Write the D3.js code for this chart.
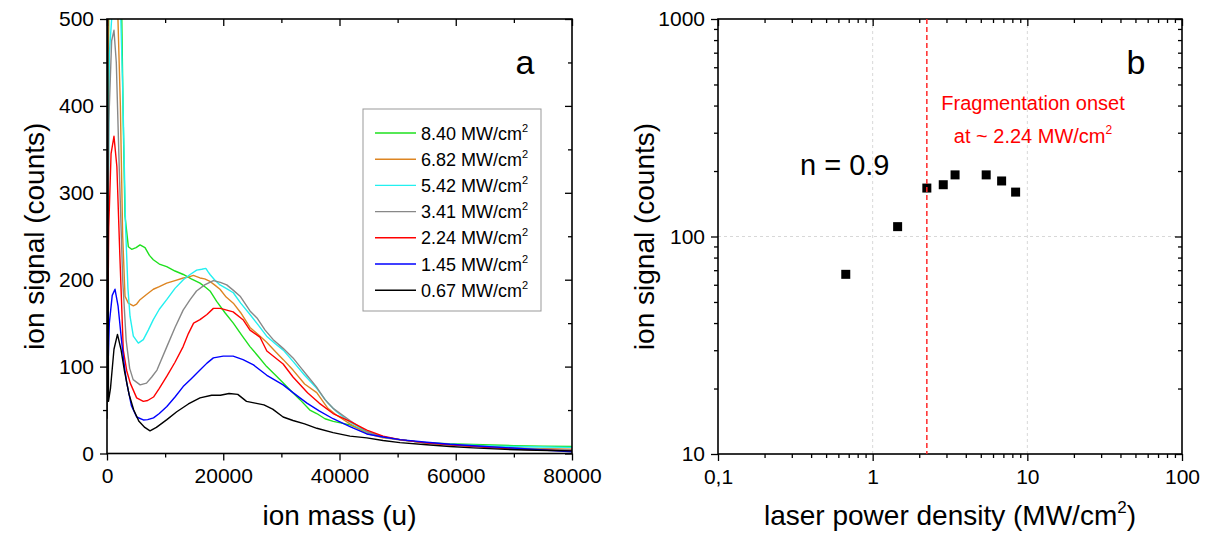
<!DOCTYPE html>
<html>
<head>
<meta charset="utf-8">
<script src="https://cdn.jsdelivr.net/npm/d3@7"></script>
<style>
  body { margin: 0; background: #fff; }
  text { font-family: "Liberation Sans", Arial, sans-serif; fill: #000; }
</style>
</head>
<body>
<svg id="chart" width="1210" height="535"></svg>
<script>
// ---------- panel a: mass spectra at several laser power densities ----------
const powerLabels = ["8.40", "6.82", "5.42", "3.41", "2.24", "1.45", "0.67"];
const seriesColors = ["#1ee01e", "#dd8522", "#22f0f0", "#888888", "#ff0000", "#0000ff", "#000000"];

// [ion mass (u), ion signal (counts)]
const spec840 = [[0,60],[300,520],[2500,520],[2800,380],[3100,273],[3670,238],[4240,235],[5000,237],[5680,240],[6540,237],[7300,228],[7970,223],[9000,218],[10270,215],[11700,210],[13130,206],[14500,201],[16000,196],[17000,191],[17720,187],[18870,175],[20300,162],[21730,150],[23200,136],[24600,123],[26000,112],[27470,100],[29000,90],[30330,81],[31800,71],[33200,62],[34900,50],[36080,46],[37500,40],[38930,37],[41800,33],[44680,25],[47500,19],[50400,16],[55000,12],[60000,11],[64700,10],[70000,9],[75000,8.5],[80000,8]];
const spec682 = [[0,60],[250,520],[1800,520],[2300,400],[2700,250],[3100,181],[3670,173],[4530,170],[5100,172],[5680,177],[6800,183],[7970,189],[9000,192],[10270,196],[11700,199],[13130,202],[14000,203],[14850,205],[16000,202],[16800,201],[17720,198],[18500,194],[19440,189],[20500,180],[21730,173],[23000,162],[24600,145],[26000,137],[27470,128],[29000,117],[30330,108],[32000,96],[34000,80],[36080,70],[38000,52],[39500,44],[41800,34],[44700,23],[47500,18],[50400,16],[55000,12],[60000,9.5],[65000,8],[70000,6.5],[75000,5.5],[80000,5]];
const spec542 = [[0,60],[400,460],[1000,520],[2300,520],[2700,420],[3200,260],[3600,190],[3960,158],[4530,135],[5390,127],[6250,131],[7100,142],[7970,154],[9000,166],[10270,177],[11700,190],[13130,200],[14300,206],[15430,211],[16300,212],[17000,213],[17400,209],[17720,206],[18500,200],[19440,194],[20500,190],[21730,185],[23000,173],[24600,160],[26000,148],[27470,135],[29000,126],[30330,119],[32000,106],[34000,90],[36080,75],[38000,58],[39500,48],[41800,36],[44700,25],[47500,19],[50400,16],[55000,12],[60000,10.5],[64700,9],[70000,8],[75000,7.5],[80000,7]];
const spec341 = [[0,60],[300,380],[800,475],[1200,487],[1600,450],[2100,330],[2700,200],[3300,130],[3900,98],[4500,85],[5700,79],[6800,81],[7700,88],[8600,96],[10300,123],[11700,145],[13100,165],[14300,177],[15400,187],[16800,194],[18300,199],[19500,197],[20600,194],[21700,188],[22900,181],[24600,164],[25800,156],[27200,142],[28600,131],[30300,121],[32000,110],[33200,100],[34400,90],[36000,77],[37500,62],[38900,52],[41800,38],[44700,25],[47500,19],[50400,15.6],[55000,12.5],[60000,10],[65000,8],[70000,6],[75000,5],[80000,4]];
const spec224 = [[0,60],[300,260],[700,345],[1200,365],[1700,330],[2200,230],[2800,119],[3400,95],[4000,81],[5100,64],[6250,60],[7000,61],[8000,65],[9000,75],[10300,89],[11700,105],[13100,123],[14000,138],[14900,150],[16000,154],[17200,160],[18300,167],[19500,167],[20600,165],[21700,163],[23400,154],[24600,142],[26300,134],[27500,118],[30300,103],[32000,88],[34500,70],[36500,58],[38900,46],[41800,37],[44700,27],[47500,20],[50400,16],[55000,12],[59000,10],[65000,7],[70000,5],[75000,4],[80000,3]];
const spec145 = [[0,60],[400,150],[900,182],[1380,189],[1900,170],[2500,130],[3000,100],[3400,81],[4200,55],[5100,42],[6250,38.6],[7000,39],[8000,41],[9000,46],[10300,54],[11700,65],[13100,77],[14500,86],[16000,96],[17200,104],[18300,110],[20000,112],[21700,112],[23400,108],[25200,102],[27500,90],[30300,79],[32000,70],[34400,58],[36500,49],[38900,40],[41800,31],[44700,22.5],[47500,19],[50400,16],[55000,13],[59000,10.6],[65000,8],[70500,6],[75000,4],[80000,2]];
const spec067 = [[0,40],[100,560],[250,60],[600,75],[1200,120],[1800,137],[2400,120],[3000,95],[3800,68],[4600,50],[5500,37],[6500,30],[7400,26],[8500,30],[10300,39],[12000,48],[14000,57],[16000,64],[18000,67],[19500,67],[21000,69],[22500,68],[24000,60],[25500,58],[27000,56],[28500,51],[30300,42],[32000,38],[34000,34],[36100,29],[38900,24],[41800,20],[44700,18],[47500,15],[50400,12.5],[55000,10],[59000,8],[63000,6.5],[67600,5],[72000,4],[76000,3.5],[80000,3]];
const spectra = [spec840, spec682, spec542, spec341, spec224, spec145, spec067];

const massTicks = [0, 20000, 40000, 60000, 80000];
const massMinorTicks = [10000, 30000, 50000, 70000];
const countTicks = [0, 100, 200, 300, 400, 500];
const countMinorTicks = [50, 150, 250, 350, 450];

// ---------- panel b: integrated ion signal vs. laser power density ----------
const powerDensity = [0.67, 1.45, 2.24, 2.86, 3.41, 5.42, 6.82, 8.40];
const ionSignal = [67, 111, 167, 173, 192, 192, 180, 160];
const onsetPower = 2.24;
const powerTicks = [0.1, 1, 10, 100];
const powerTickLabels = ["0,1", "1", "10", "100"];
const signalTicks = [10, 100, 1000];

const svg = d3.select("#chart");
const FONT_TICK = 21, FONT_TITLE = 28;

// adds "MW/cm" + superscript 2 to a text selection
function addUnit(textSel, supSize, supDy) {
  textSel.append("tspan").text("MW/cm");
  textSel.append("tspan").attr("font-size", supSize).attr("dy", -supDy).text("2");
  return textSel;
}

// ================= panel a =================
const A = { left: 107, right: 572, top: 19, bottom: 453.5 };
const xA = d3.scaleLinear().domain([0, 80000]).range([A.left, A.right]);
const yA = d3.scaleLinear().domain([0, 500]).range([A.bottom, A.top]);

const gA = svg.append("g");
gA.append("clipPath").attr("id", "clipA").append("rect")
  .attr("x", A.left).attr("y", A.top).attr("width", A.right - A.left).attr("height", A.bottom - A.top);

const lineA = d3.line().x(d => xA(d[0])).y(d => yA(d[1]));
const curves = gA.append("g").attr("clip-path", "url(#clipA)");
// highest power first, the 0.67 MW/cm2 spectrum ends up on top
spectra.forEach((s, i) => {
  curves.append("path").datum(s)
    .attr("d", lineA).attr("fill", "none")
    .attr("stroke", seriesColors[i]).attr("stroke-width", 1.4)
    .attr("stroke-linejoin", "round");
});

function styleAxis(g) {
  g.select(".domain").remove();
  g.selectAll(".tick line").attr("stroke", "#000").attr("stroke-width", 1.3);
  g.selectAll("text").attr("font-size", FONT_TICK).attr("font-family", "Liberation Sans, Arial, sans-serif");
}

// bottom axis (outward ticks)
gA.append("g").attr("transform", `translate(0,${A.bottom})`)
  .call(d3.axisBottom(xA).tickValues(massTicks).tickFormat(d3.format("d")).tickSize(7).tickPadding(8))
  .call(styleAxis);
gA.append("g").attr("transform", `translate(0,${A.bottom})`)
  .call(d3.axisBottom(xA).tickValues(massMinorTicks).tickFormat("").tickSize(4))
  .call(styleAxis);
// top mirror (inward ticks)
gA.append("g").attr("transform", `translate(0,${A.top})`)
  .call(d3.axisBottom(xA).tickValues(massTicks).tickFormat("").tickSize(7))
  .call(styleAxis);
gA.append("g").attr("transform", `translate(0,${A.top})`)
  .call(d3.axisBottom(xA).tickValues(massMinorTicks).tickFormat("").tickSize(4))
  .call(styleAxis);
// left axis (outward ticks)
gA.append("g").attr("transform", `translate(${A.left},0)`)
  .call(d3.axisLeft(yA).tickValues(countTicks).tickSize(7).tickPadding(6))
  .call(styleAxis);
gA.append("g").attr("transform", `translate(${A.left},0)`)
  .call(d3.axisLeft(yA).tickValues(countMinorTicks).tickFormat("").tickSize(4))
  .call(styleAxis);
// right mirror (inward ticks)
gA.append("g").attr("transform", `translate(${A.right},0)`)
  .call(d3.axisLeft(yA).tickValues(countTicks).tickFormat("").tickSize(7))
  .call(styleAxis);
gA.append("g").attr("transform", `translate(${A.right},0)`)
  .call(d3.axisLeft(yA).tickValues(countMinorTicks).tickFormat("").tickSize(4))
  .call(styleAxis);

gA.append("rect").attr("x", A.left).attr("y", A.top)
  .attr("width", A.right - A.left).attr("height", A.bottom - A.top)
  .attr("fill", "none").attr("stroke", "#000").attr("stroke-width", 1.6);

// legend
const leg = gA.append("g");
leg.append("rect").attr("x", 363).attr("y", 109).attr("width", 178).attr("height", 202)
  .attr("fill", "#fff").attr("stroke", "#999").attr("stroke-width", 1);
powerLabels.forEach((lab, i) => {
  const yy = 133 + i * 26.2;
  leg.append("line").attr("x1", 375).attr("x2", 416).attr("y1", yy).attr("y2", yy)
    .attr("stroke", seriesColors[i]).attr("stroke-width", 1.4);
  const t = leg.append("text").attr("x", 421).attr("y", yy + 6.5).attr("font-size", 18);
  t.append("tspan").text(lab + " ");
  addUnit(t, 11, 8);
});

gA.append("text").attr("x", 525).attr("y", 74).attr("text-anchor", "middle")
  .attr("font-size", 34).text("a");

svg.append("text").attr("x", (A.left + A.right) / 2).attr("y", 525)
  .attr("text-anchor", "middle").attr("font-size", FONT_TITLE).text("ion mass (u)");
svg.append("text").attr("transform", `translate(44,${(A.top + A.bottom) / 2}) rotate(-90)`)
  .attr("text-anchor", "middle").attr("font-size", FONT_TITLE).text("ion signal (counts)");

// ================= panel b =================
const B = { left: 718, right: 1182, top: 19, bottom: 454 };
const xB = d3.scaleLog().domain([0.1, 100]).range([B.left, B.right]);
const yB = d3.scaleLog().domain([10, 1000]).range([B.bottom, B.top]);
const gB = svg.append("g");

const minorX = [];
[0.1, 1, 10].forEach(d => { for (let k = 2; k <= 9; k++) minorX.push(d * k); });
const minorY = [];
[10, 100].forEach(d => { for (let k = 2; k <= 9; k++) minorY.push(d * k); });

// light dashed grid at the inner decades
gB.selectAll(".gx").data([1, 10]).join("line")
  .attr("x1", d => xB(d)).attr("x2", d => xB(d)).attr("y1", B.top).attr("y2", B.bottom)
  .attr("stroke", "#d8d8d8").attr("stroke-width", 1).attr("stroke-dasharray", "3,3");
gB.selectAll(".gy").data([100]).join("line")
  .attr("y1", d => yB(d)).attr("y2", d => yB(d)).attr("x1", B.left).attr("x2", B.right)
  .attr("stroke", "#d8d8d8").attr("stroke-width", 1).attr("stroke-dasharray", "3,3");

gB.append("g").attr("transform", `translate(0,${B.bottom})`)
  .call(d3.axisBottom(xB).tickValues(powerTicks).tickFormat((d, i) => powerTickLabels[i]).tickSize(7).tickPadding(8))
  .call(styleAxis);
gB.append("g").attr("transform", `translate(0,${B.bottom})`)
  .call(d3.axisBottom(xB).tickValues(minorX).tickFormat("").tickSize(4))
  .call(styleAxis);
gB.append("g").attr("transform", `translate(0,${B.top})`)
  .call(d3.axisBottom(xB).tickValues(powerTicks).tickFormat("").tickSize(7))
  .call(styleAxis);
gB.append("g").attr("transform", `translate(0,${B.top})`)
  .call(d3.axisBottom(xB).tickValues(minorX).tickFormat("").tickSize(4))
  .call(styleAxis);
gB.append("g").attr("transform", `translate(${B.left},0)`)
  .call(d3.axisLeft(yB).tickValues(signalTicks).tickFormat(d3.format("d")).tickSize(7).tickPadding(6))
  .call(styleAxis);
gB.append("g").attr("transform", `translate(${B.left},0)`)
  .call(d3.axisLeft(yB).tickValues(minorY).tickFormat("").tickSize(4))
  .call(styleAxis);
gB.append("g").attr("transform", `translate(${B.right},0)`)
  .call(d3.axisLeft(yB).tickValues(signalTicks).tickFormat("").tickSize(7))
  .call(styleAxis);
gB.append("g").attr("transform", `translate(${B.right},0)`)
  .call(d3.axisLeft(yB).tickValues(minorY).tickFormat("").tickSize(4))
  .call(styleAxis);

gB.append("rect").attr("x", B.left).attr("y", B.top)
  .attr("width", B.right - B.left).attr("height", B.bottom - B.top)
  .attr("fill", "none").attr("stroke", "#000").attr("stroke-width", 1.6);

// data points
gB.selectAll(".pt").data(powerDensity).join("rect")
  .attr("x", (d) => xB(d) - 4.5).attr("y", (d, i) => yB(ionSignal[i]) - 4.5)
  .attr("width", 9).attr("height", 9).attr("fill", "#000");

// fragmentation onset marker
gB.append("line").attr("x1", xB(onsetPower)).attr("x2", xB(onsetPower))
  .attr("y1", B.top).attr("y2", B.bottom)
  .attr("stroke", "#ff2a2a").attr("stroke-width", 1.5).attr("stroke-dasharray", "5,3");

gB.append("text").attr("x", 1033).attr("y", 110).attr("text-anchor", "middle")
  .attr("font-size", 20).style("fill", "#ff0000").text("Fragmentation onset");
const t2 = gB.append("text").attr("x", 1033).attr("y", 143).attr("text-anchor", "middle")
  .attr("font-size", 20).style("fill", "#ff0000");
t2.append("tspan").text("at ~ 2.24 ");
addUnit(t2, 12, 9);
t2.selectAll("tspan").style("fill", "#ff0000");

gB.append("text").attr("x", 800).attr("y", 175).attr("font-size", 29).text("n = 0.9");
gB.append("text").attr("x", 1136).attr("y", 74).attr("text-anchor", "middle")
  .attr("font-size", 34).text("b");

const tx = svg.append("text").attr("x", (B.left + B.right) / 2).attr("y", 525)
  .attr("text-anchor", "middle").attr("font-size", FONT_TITLE);
tx.append("tspan").text("laser power density (");
addUnit(tx, 17, 12);
tx.append("tspan").attr("dy", 12).text(")");
svg.append("text").attr("transform", `translate(654,${(B.top + B.bottom) / 2}) rotate(-90)`)
  .attr("text-anchor", "middle").attr("font-size", FONT_TITLE).text("ion signal (counts)");
</script>
</body>
</html>
